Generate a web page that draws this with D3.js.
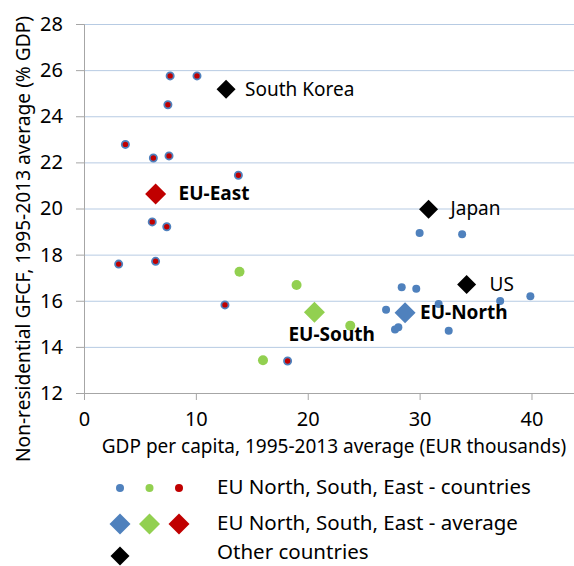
<!DOCTYPE html>
<html>
<head>
<meta charset="utf-8">
<style>
  body { margin: 0; background: #fff; }
  svg text { font-family: "Noto Sans", "Open Sans", sans-serif; fill: #000; }
</style>
</head>
<body>
<svg width="574" height="566"></svg>
<script src="https://d3js.org/d3.v7.min.js"></script>
<script>
// EU country points: [GDP per capita (EUR k), GFCF % GDP]
var northPoints = [[30.0, 18.94], [33.8, 18.88], [28.4, 16.58], [29.7, 16.52], [31.7, 15.86],
                   [37.2, 15.99], [39.9, 16.19], [27.0, 15.61], [27.8, 14.75], [28.1, 14.85], [32.6, 14.70]];
var southPoints = [[13.9, 17.26], [16.0, 13.42], [19.0, 16.68], [23.8, 14.92]];
var eastPoints = [[7.7, 25.75], [10.1, 25.75], [7.5, 24.5], [3.7, 22.78], [6.2, 22.19], [7.6, 22.28],
                  [13.8, 21.44], [6.1, 19.42], [7.4, 19.21], [3.1, 17.59], [6.4, 17.71], [12.6, 15.82], [18.2, 13.39]];

var averageNames = ["EU-North", "EU-South", "EU-East"];
var averageValues = [[28.7, 15.48], [20.6, 15.5], [6.4, 20.63]];

var otherNames = ["South Korea", "Japan", "US"];
var otherValues = [[12.7, 25.17], [30.8, 19.97], [34.2, 16.7]];

var xTicks = [0, 10, 20, 30, 40];
var yTicks = [12, 14, 16, 18, 20, 22, 24, 26, 28];
var legendLabels = ["EU North, South, East - countries", "EU North, South, East - average", "Other countries"];

var colors = { north: "#4f81bd", south: "#92d050", east: "#c00000", other: "#000" };

var svg = d3.select("svg");
var x = d3.scaleLinear().domain([0, 43.8]).range([84, 574]);
var y = d3.scaleLinear().domain([12, 28]).range([393, 24]);

// gridlines
svg.append("g").selectAll("line").data(yTicks.slice(1)).join("line")
    .attr("x1", 84).attr("x2", 574)
    .attr("y1", function(d) { return y(d) + 0.5; }).attr("y2", function(d) { return y(d) + 0.5; })
    .attr("stroke", "#b7cbe3").attr("stroke-width", 1);

// axes
var xAxis = svg.append("g").attr("transform", "translate(0,393)")
    .call(d3.axisBottom(x).tickValues(xTicks).tickSize(7).tickPadding(14));
var yAxis = svg.append("g").attr("transform", "translate(84,0)")
    .call(d3.axisLeft(y).tickValues(yTicks).tickSize(8).tickPadding(13));
[xAxis, yAxis].forEach(function(g) {
  g.select(".domain").attr("stroke", "#a6a6a6");
  g.selectAll(".tick line").attr("stroke", "#a6a6a6");
  g.selectAll("text").attr("font-size", 20).attr("font-family", "Noto Sans, sans-serif");
});
xAxis.select(".domain").attr("d", "M84,0.5H574");
xAxis.selectAll("text").attr("dy", "0.6em");

svg.append("text").attr("x", 334).attr("y", 453).attr("text-anchor", "middle")
    .attr("font-size", 19).text("GDP per capita, 1995-2013 average (EUR thousands)");
svg.append("text").attr("transform", "translate(30,239) rotate(-90)").attr("text-anchor", "middle")
    .attr("font-size", 19).attr("textLength", 446).attr("lengthAdjust", "spacingAndGlyphs")
    .text("Non-residential GFCF, 1995-2013 average (% GDP)");

function diamond(g, cx, cy, r, fill) {
  g.append("path").attr("d", "M" + cx + "," + (cy - r) + "L" + (cx + r) + "," + cy + "L" + cx + "," + (cy + r) + "L" + (cx - r) + "," + cy + "Z")
      .attr("fill", fill);
}

var plot = svg.append("g");
plot.selectAll(".n").data(northPoints).join("circle")
    .attr("cx", function(d) { return x(d[0]); }).attr("cy", function(d) { return y(d[1]); })
    .attr("r", 4).attr("fill", colors.north);
plot.selectAll(".s").data(southPoints).join("circle")
    .attr("cx", function(d) { return x(d[0]); }).attr("cy", function(d) { return y(d[1]); })
    .attr("r", 5).attr("fill", colors.south);
plot.selectAll(".e").data(eastPoints).join("circle")
    .attr("cx", function(d) { return x(d[0]); }).attr("cy", function(d) { return y(d[1]); })
    .attr("r", 3.6).attr("fill", colors.east).attr("stroke", colors.north).attr("stroke-width", 1.8);

var avgColors = [colors.north, colors.south, colors.east];
averageValues.forEach(function(d, i) { diamond(plot, x(d[0]), y(d[1]), 10.5, avgColors[i]); });
otherValues.forEach(function(d) { diamond(plot, x(d[0]), y(d[1]), 9.5, colors.other); });

// point labels
var labelPos = { "EU-North": [15, 6], "EU-South": [-26, 29], "EU-East": [23, 6], "South Korea": [19, 7], "Japan": [22, 6], "US": [23, 6] };
averageNames.forEach(function(n, i) {
  var p = labelPos[n];
  svg.append("text").attr("x", x(averageValues[i][0]) + p[0]).attr("y", y(averageValues[i][1]) + p[1])
     .attr("font-size", 19).attr("font-weight", "bold").text(n);
});
otherNames.forEach(function(n, i) {
  var p = labelPos[n];
  svg.append("text").attr("x", x(otherValues[i][0]) + p[0]).attr("y", y(otherValues[i][1]) + p[1])
     .attr("font-size", 19).text(n);
});

// legend
var lg = svg.append("g");
[colors.north, colors.south, colors.east].forEach(function(c, i) {
  lg.append("circle").attr("cx", 120 + i * 29.5).attr("cy", 488).attr("r", 4).attr("fill", c);
  diamond(lg, 120 + i * 29.5, 524, 10.5, c);
});
diamond(lg, 120, 556, 9.5, colors.other);
legendLabels.forEach(function(t, i) {
  lg.append("text").attr("x", 217).attr("y", [494, 530, 559][i]).attr("font-size", 20.5).text(t);
});
</script>
</body>
</html>
